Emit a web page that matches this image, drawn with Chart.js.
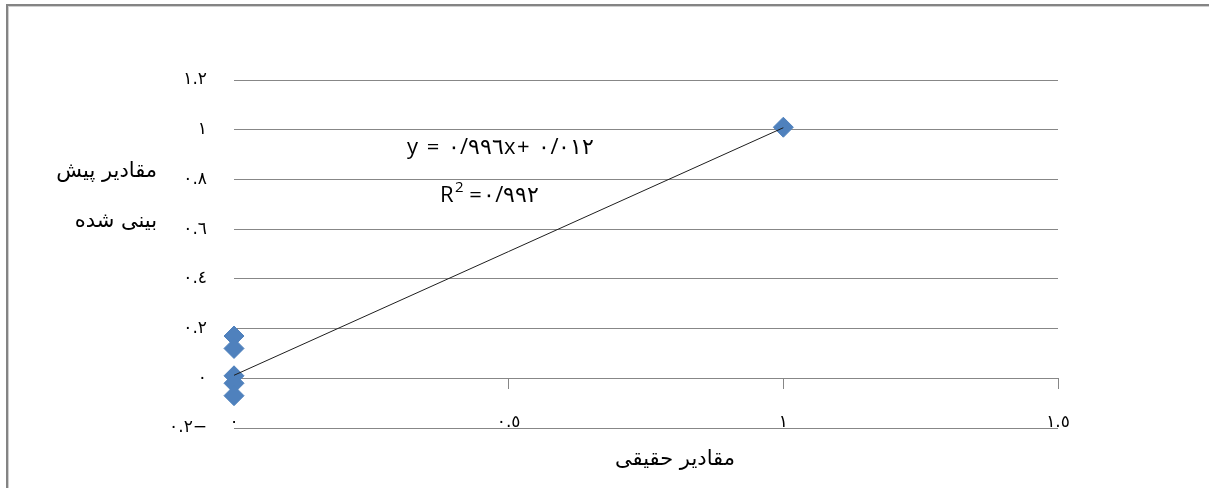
<!DOCTYPE html>
<html>
<head>
<meta charset="utf-8">
<script src="https://cdn.jsdelivr.net/npm/chart.js@4.4.1/dist/chart.umd.min.js"></script>
<style>
  html, body { margin: 0; padding: 0; background: #ffffff; }
  #wrap { position: relative; width: 1209px; height: 488px; }
</style>
</head>
<body>
<div id="wrap"><canvas id="c" width="1209" height="488"></canvas></div>
<script>
// ---- data ----
const actualValues    = [0, 0, 0, 0, 0, 1];
const predictedValues = [0.17, 0.12, 0.01, -0.02, -0.07, 1.01];
const trendX = [0, 1];
const trendY = [0.012, 1.008];
const xTickValues = [0, 0.5, 1, 1.5];
const xTickLabels = ['٠', '٠.٥', '١', '١.٥'];
const yTickValues = [-0.2, 0, 0.2, 0.4, 0.6, 0.8, 1, 1.2];
const yTickLabels = ['٠.٢−', '٠', '٠.٢', '٠.٤', '٠.٦', '٠.٨', '١', '١.٢'];
const xTitle = 'مقادیر حقیقی';
const yTitleLines = ['مقادیر پیش', 'بینی شده'];
const equationText = 'y = ٠/٩٩٦x+ ٠/٠١٢';
const r2Text = '=٠/٩٩٢';

function labelFor(values, labels, v) {
  for (let i = 0; i < values.length; i++) {
    if (Math.abs(values[i] - v) < 1e-9) return labels[i];
  }
  return '';
}

const gridColor = '#878787';

const decorPlugin = {
  id: 'decor',
  beforeDraw(chart) {
    const ctx = chart.ctx;
    ctx.save();
    ctx.fillStyle = '#ffffff';
    ctx.fillRect(0, 0, chart.width, chart.height);
    // frame (top & left edges)
    ctx.fillStyle = '#848484';
    ctx.fillRect(6, 4, chart.width - 6, 2);
    ctx.fillRect(6, 4, 2, chart.height - 4);
    ctx.fillStyle = '#cfcfcf';
    ctx.fillRect(8, 6, chart.width - 8, 1);
    ctx.fillRect(8, 6, 1, chart.height - 6);
    ctx.restore();
  },
  afterDraw(chart) {
    const ctx = chart.ctx;
    ctx.save();
    ctx.fillStyle = '#000000';
    ctx.direction = 'ltr';
    // axis titles
    ctx.font = '21px "DejaVu Sans"';
    ctx.textBaseline = 'middle';
    ctx.textAlign = 'right';
    ctx.fillText(yTitleLines[0], 157, 172);
    ctx.fillText(yTitleLines[1], 157, 222);
    ctx.textAlign = 'center';
    ctx.fillText(xTitle, 675, 460);
    // trendline equation
    ctx.letterSpacing = '1.5px';
    ctx.font = '22px "Open Sans"';
    ctx.textAlign = 'left';
    ctx.fillText(equationText, 407, 148);
    ctx.fillText('R', 440, 196);
    const rw = ctx.measureText('R').width;
    ctx.font = '15px "Open Sans"';
    ctx.fillText('2', 440 + rw, 188);
    const tw = ctx.measureText('2').width;
    ctx.font = '22px "Open Sans"';
    ctx.fillText(r2Text, 440 + rw + tw + 4, 196);
    ctx.restore();
  }
};

const scatterData = actualValues.map((x, i) => ({ x: x, y: predictedValues[i] }));
const trendData = trendX.map((x, i) => ({ x: x, y: trendY[i] }));

new Chart(document.getElementById('c'), {
  type: 'scatter',
  data: {
    datasets: [
      {
        type: 'line',
        data: trendData,
        borderColor: '#1e1e1e',
        borderWidth: 1,
        pointRadius: 0,
        fill: false,
        clip: false,
        order: 0
      },
      {
        type: 'scatter',
        data: scatterData,
        pointStyle: 'rectRot',
        pointRadius: 10,
        pointHoverRadius: 10,
        backgroundColor: '#4F81BD',
        borderColor: '#4F81BD',
        borderWidth: 1,
        clip: false,
        order: 1
      }
    ]
  },
  options: {
    responsive: false,
    animation: false,
    devicePixelRatio: 1,
    layout: { padding: { left: 0, right: 151, top: 80, bottom: 0 } },
    plugins: { legend: { display: false }, tooltip: { enabled: false } },
    scales: {
      x: {
        type: 'linear',
        min: 0, max: 1.5,
        afterBuildTicks(s) { s.ticks = xTickValues.map(v => ({ value: v })); },
        afterFit(s) { s.height = 60; },
        grid: { display: false, drawTicks: false },
        border: { display: false },
        ticks: {
          mirror: true,
          padding: -5,
          color: '#000000',
          font: { family: 'DejaVu Sans', size: 17 },
          maxRotation: 0,
          autoSkip: false,
          callback: (v) => labelFor(xTickValues, xTickLabels, v)
        }
      },
      x2: {
        type: 'linear',
        axis: 'x',
        position: { y: 0 },
        min: 0, max: 1.5,
        afterBuildTicks(s) { s.ticks = xTickValues.map(v => ({ value: v })); },
        grid: { display: true, drawOnChartArea: false, drawTicks: true, tickLength: 10, color: gridColor, lineWidth: 1 },
        border: { display: true, color: gridColor, width: 1 },
        ticks: { display: false }
      },
      y: {
        type: 'linear',
        min: -0.2, max: 1.2,
        afterBuildTicks(s) { s.ticks = yTickValues.map(v => ({ value: v })); },
        afterFit(s) { s.width = 234; },
        grid: { color: gridColor, lineWidth: 1, drawTicks: false },
        border: { display: false },
        ticks: {
          padding: 27,
          color: '#000000',
          font: { family: 'DejaVu Sans', size: 17 },
          autoSkip: false,
          callback: (v) => labelFor(yTickValues, yTickLabels, v)
        }
      }
    }
  },
  plugins: [decorPlugin]
});
</script>
</body>
</html>
